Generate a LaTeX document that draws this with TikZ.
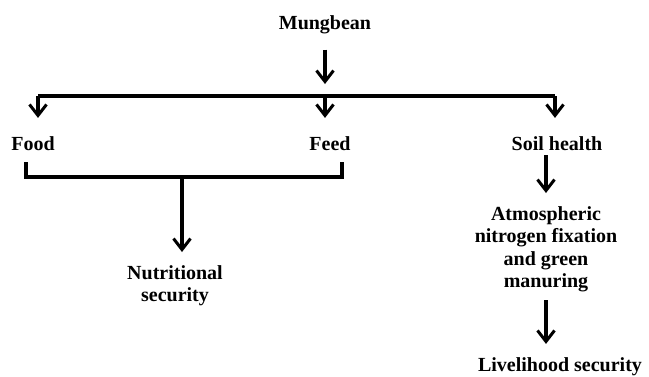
\documentclass[tikz,border=0pt]{standalone}
\usepackage{fontspec}
\setmainfont{Liberation Serif}
\usetikzlibrary{arrows.meta}
\begin{document}
\begin{tikzpicture}[x=1pt,y=-1pt,
  lbl/.style={font=\bfseries\fontsize{20}{22.5}\selectfont, inner sep=0pt, align=center},
  conn/.style={line width=3.3pt},
  arr/.style={conn,-{Straight Barb[length=11pt,width=17pt,line width=3pt]}}]
\useasboundingbox (0,0) rectangle (649,376);

% labels
\node[lbl,anchor=base]  (mung) at (325,29)  {Mungbean};
\node[lbl,anchor=base]  (food) at (33,150)  {Food};
\node[lbl,anchor=base]  (feed) at (330,150) {Feed};
\node[lbl,anchor=base]  (soil) at (557,150) {Soil health};
\node[lbl,anchor=north] (nut)  at (175,265) {Nutritional\\security};
\node[lbl,anchor=north] (atm)  at (546,206) {Atmospheric\\nitrogen fixation\\and green\\manuring};
\node[lbl,anchor=base]  (live) at (560,371) {Livelihood security};

% branching bar below Mungbean
\coordinate (bl) at (38,96);
\coordinate (bj) at (325,96);
\coordinate (br) at (555,96);
\draw[arr,shorten <=16pt,shorten >=12pt] (mung) -- (bj);
\draw[conn] (bl) -- (br);
\draw[arr,shorten >=18pt] (bl) -- (bl |- food.north);
\draw[arr,shorten >=18pt] (bj) -- (bj |- feed.north);
\draw[arr,shorten >=18pt] (br) -- (br |- soil.north);

% bracket joining Food and Feed
\coordinate (fl) at (26,162);
\coordinate (fr) at (342,162);
\coordinate (fm) at (182,177);
\draw[conn] (fl) |- (fm) -| (fr);
\draw[arr,shorten >=13pt] (fm) -- (fm |- nut.north);

% soil health chain
\draw[arr,shorten <=5pt,shorten >=13pt] (atm.north |- soil.south) -- (atm.north);
\draw[arr,shorten <=8pt,shorten >=13pt] (atm.south) -- (atm.south |- live.north);
\end{tikzpicture}
\end{document}
